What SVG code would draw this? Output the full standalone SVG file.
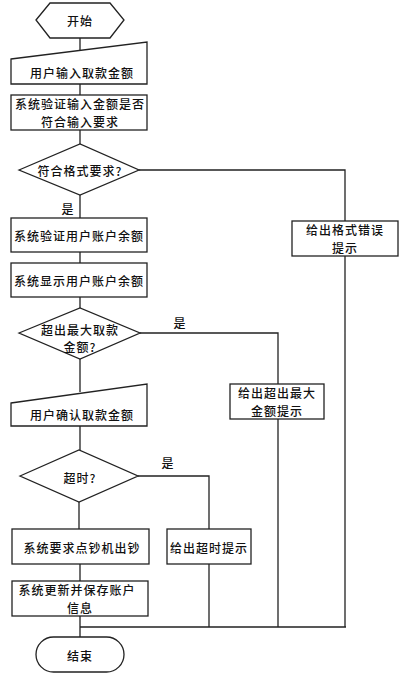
<svg xmlns="http://www.w3.org/2000/svg" width="414" height="679" viewBox="0 0 414 679">
<style>
.s{fill:#fff;stroke:#222;stroke-width:1.3}
.c{fill:none;stroke:#222;stroke-width:1.3}
text{font-family:"Noto Sans CJK SC","Liberation Sans",sans-serif;font-size:12px;font-weight:500;letter-spacing:1px;fill:#111;text-anchor:middle;dominant-baseline:central}
</style>
<rect width="414" height="679" fill="#fff"/>
<g id="connectors">
<path class="c" d="M80,38V50M80,84V95M80,130V144M80,195V218M80,252V263M80,297V308M80,359V392M80,426V450M79,502V529M80,564V581M80,616V637"/>
<path class="c" d="M139,170H345V627M140,333H278V627M138,476H209V627M80,627H346"/>
<text x="68" y="208">是</text>
<text x="180" y="322">是</text>
<text x="168" y="462">是</text>
</g>
<g id="start"><polygon class="s" points="36,20 50,3 110,3 124,20 110,38 50,38"/><text x="80" y="20">开始</text></g>
<g id="input"><polygon class="s" points="11,59 147,42 147,84 11,84"/><text x="82" y="72">用户输入取款金额</text></g>
<g id="validate"><rect class="s" x="11" y="95" width="136" height="35"/><text x="80" y="103.5">系统验证输入金额是否</text><text x="80" y="121">符合输入要求</text></g>
<g id="d1"><polygon class="s" points="19,170 80,144 139,170 80,195"/><text x="80" y="170">符合格式要求?</text></g>
<g id="verify"><rect class="s" x="11" y="218" width="136" height="34"/><text x="79" y="235">系统验证用户账户余额</text></g>
<g id="show"><rect class="s" x="11" y="263" width="136" height="34"/><text x="79" y="280">系统显示用户账户余额</text></g>
<g id="d2"><polygon class="s" points="19,333 80,308 140,333 80,359"/><text x="80" y="329">超出最大取款</text><text x="80" y="346.5">金额?</text></g>
<g id="confirm"><polygon class="s" points="11,403 147,384 147,426 11,426"/><text x="82" y="414">用户确认取款金额</text></g>
<g id="d3"><polygon class="s" points="20,476 79,450 138,476 79,502"/><text x="80" y="477">超时?</text></g>
<g id="dispense"><rect class="s" x="12" y="529" width="137" height="35"/><text x="82" y="547">系统要求点钞机出钞</text></g>
<g id="update"><rect class="s" x="12" y="581" width="136" height="35"/><text x="77" y="589.5">系统更新并保存账户</text><text x="80" y="607">信息</text></g>
<g id="end"><rect class="s" x="36" y="637" width="88" height="35" rx="17.5"/><text x="80" y="655">结束</text></g>
<g id="errFmt"><rect class="s" x="292" y="221" width="106" height="35"/><text x="345" y="229.5">给出格式错误</text><text x="345" y="247">提示</text></g>
<g id="errMax"><rect class="s" x="230" y="384" width="94" height="35"/><text x="277" y="392.5">给出超出最大</text><text x="277" y="410">金额提示</text></g>
<g id="errTime"><rect class="s" x="167" y="529" width="84" height="35"/><text x="209" y="547">给出超时提示</text></g>
</svg>
